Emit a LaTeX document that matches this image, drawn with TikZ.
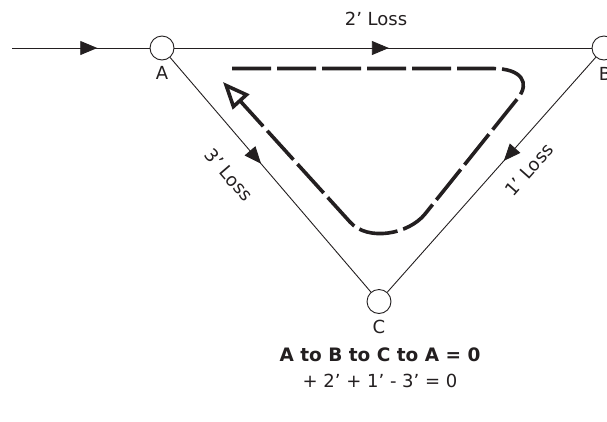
\documentclass[tikz,border=0pt]{standalone}
\usepackage{fontspec}
\setmainfont{DejaVu Sans}
\usetikzlibrary{arrows.meta,decorations.markings}
\definecolor{ink}{RGB}{35,31,32}
\tikzset{
  junction/.style={circle,draw=ink,line width=0.9pt,minimum size=24pt,inner sep=0pt,fill=white},
  pipe/.style={draw=ink,line width=0.9pt},
  midarrow/.style={postaction={decorate,decoration={markings,
      mark=at position #1 with {\arrow[ink]{Triangle[length=17pt,width=14pt]}}}}},
  lbl/.style={text=ink,font=\fontsize{18}{21}\selectfont,inner sep=0pt},
  loop/.style={draw=ink,line width=3.6pt,dash pattern=on 39pt off 6pt,
      -{Triangle[open,length=27pt,width=22pt]}}
}
\begin{document}
\begin{tikzpicture}[x=1pt,y=-1pt]
\useasboundingbox (0,0) rectangle (607,421);
\node[junction] (A) at (162,48) {};
\node[junction] (B) at (604,48) {};
\node[junction] (C) at (379,301.5) {};
\coordinate (in) at (12,48);
\draw[pipe,midarrow=0.62] (in) -- (A);
\draw[pipe,midarrow=0.514] (A) -- (B);
\draw[pipe,midarrow=0.453] (A) -- (C);
\draw[pipe,midarrow=0.441] (B) -- (C);
\node[lbl] (la) at (162,73) {A};
\node[lbl] (lb) at (605,74) {B};
\node[lbl] (lc) at (379,327) {C};
\node[lbl] (l2) at (376,19) {2’ Loss};
\node[lbl,rotate=-49.4] (l3) at (229,175) {3’ Loss};
\node[lbl,rotate=48.4] (l1) at (529,170) {1’ Loss};
\draw[loop] (232,68.5) -- (493,68.5) .. controls (522,68.5) and (530,83) .. (518,98)
  -- (425,214) .. controls (409,234) and (368,242) .. (350,222) -- (223,82);
\node[lbl,font=\fontsize{18.5}{22}\selectfont\bfseries] (eq1) at (380,355) {A to B to C to A = 0};
\node[lbl] (eq2) at (380,381) {+ 2’ + 1’ - 3’ = 0};
\end{tikzpicture}
\end{document}
